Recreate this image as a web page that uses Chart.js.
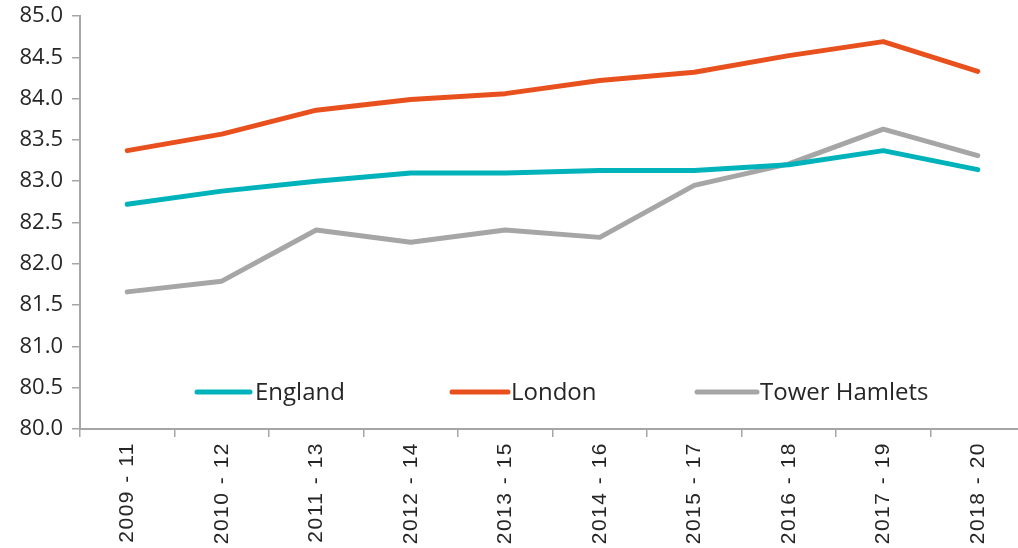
<!DOCTYPE html>
<html>
<head>
<meta charset="utf-8">
<script src="https://cdn.jsdelivr.net/npm/chart.js@4/dist/chart.umd.min.js"></script>
<style>
html,body{margin:0;padding:0;background:#fff;overflow:hidden;}
#wrap{width:1026px;height:548px;}
</style>
</head>
<body>
<div id="wrap"><canvas id="c" width="1026" height="548"></canvas></div>
<script>
const categories = ["2009 - 11","2010 - 12","2011 - 13","2012 - 14","2013 - 15","2014 - 16","2015 - 17","2016 - 18","2017 - 19","2018 - 20"];
const england = [82.72, 82.88, 83.0, 83.1, 83.1, 83.13, 83.13, 83.2, 83.37, 83.14];
const london = [83.37, 83.57, 83.86, 83.99, 84.06, 84.22, 84.32, 84.52, 84.69, 84.33];
const towerHamlets = [81.66, 81.79, 82.41, 82.26, 82.41, 82.32, 82.95, 83.21, 83.63, 83.31];
const seriesNames = ["England","London","Tower Hamlets"];
const seriesColors = ["#00b3bb","#e8511e","#a6a6a6"];
const yTicks = [80.0, 80.5, 81.0, 81.5, 82.0, 82.5, 83.0, 83.5, 84.0, 84.5, 85.0];

const textColor = "#262626";
const axisColor = "#a6a6a6";

const legendPlugin = {
  id: 'insideLegend',
  beforeDraw(chart) {
    const xs = chart.scales.x;
    if (!xs._wrapped) {
      const orig = xs.drawLabels.bind(xs);
      xs.drawLabels = function(area) {
        const ctx = chart.ctx;
        const prev = ctx.letterSpacing;
        ctx.letterSpacing = '1.5px';
        orig(area);
        ctx.letterSpacing = prev || '0px';
      };
      xs._wrapped = true;
    }
  },
  afterDatasetsDraw(chart) {
    const ctx = chart.ctx;
    const area = chart.chartArea;
    const y = area.top + 376;
    const items = [
      {x0: area.left + 117, x1: area.left + 170, tx: area.left + 175},
      {x0: area.left + 372, x1: area.left + 428, tx: area.left + 431},
      {x0: area.left + 617, x1: area.left + 677, tx: area.left + 680}
    ];
    ctx.save();
    chart.data.datasets.forEach((ds, i) => {
      const it = items[i];
      ctx.strokeStyle = ds.borderColor;
      ctx.lineWidth = 5;
      ctx.lineCap = 'round';
      ctx.beginPath();
      ctx.moveTo(it.x0, y);
      ctx.lineTo(it.x1, y);
      ctx.stroke();
      ctx.fillStyle = textColor;
      ctx.font = "24px 'Open Sans'";
      ctx.textBaseline = 'middle';
      ctx.textAlign = 'left';
      ctx.fillText(ds.label, it.tx, y + 1);
    });
    ctx.restore();
  }
};

new Chart(document.getElementById('c'), {
  type: 'line',
  data: {
    labels: categories,
    datasets: [
      {label: seriesNames[0], data: england, borderColor: seriesColors[0]},
      {label: seriesNames[1], data: london, borderColor: seriesColors[1]},
      {label: seriesNames[2], data: towerHamlets, borderColor: seriesColors[2]}
    ].map(d => Object.assign(d, {borderWidth: 5, pointRadius: 0, tension: 0, fill: false, borderCapStyle: 'round', borderJoinStyle: 'round'}))
  },
  options: {
    responsive: false,
    animation: false,
    devicePixelRatio: 1,
    layout: {padding: {top: 16, right: 1, left: 0, bottom: 0}},
    plugins: {legend: {display: false}, tooltip: {enabled: false}},
    scales: {
      x: {
        offset: true,
        grid: {display: true, drawOnChartArea: false, color: axisColor, tickLength: 8, offset: true, lineWidth: 1.5},
        border: {color: axisColor, width: 2},
        ticks: {color: textColor, font: {family: "'Liberation Sans', Arial", size: 21}, maxRotation: 90, minRotation: 90, padding: 5, autoSkip: false},
        afterFit(s) { s.height = 119; s.paddingLeft = 0; s.paddingRight = 0; }
      },
      y: {
        min: 80, max: 85,
        afterBuildTicks(s) { s.ticks = yTicks.map(v => ({value: v})); },
        grid: {display: true, drawOnChartArea: false, color: axisColor, tickLength: 8, lineWidth: 1.5},
        border: {color: axisColor, width: 2},
        ticks: {color: textColor, font: {family: "'Open Sans'", size: 22}, padding: 9, callback: v => Number(v).toFixed(1)},
        afterFit(s) { s.width = 80; s.paddingTop = 0; s.paddingBottom = 0; }
      }
    }
  },
  plugins: [legendPlugin]
});
</script>
</body>
</html>
